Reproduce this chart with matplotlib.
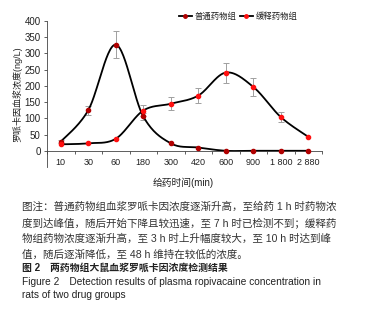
import numpy as np
import matplotlib
matplotlib.use("Agg")
import matplotlib.pyplot as plt
from matplotlib.lines import Line2D

plt.rcParams['font.family'] = ['Liberation Sans', 'Noto Sans CJK SC', 'DejaVu Sans']

time_labels = ['10', '30', '60', '180', '300', '420', '600', '900', '1 800', '2 880']
normal_vals = [28, 125, 327, 106, 23, 10, 0, 0, 0, 0]
normal_err = [4, 14, 42, 10, 0, 0, 0, 0, 0, 0]
slow_vals = [20, 23, 37, 124, 145, 170, 241, 197, 104, 43]
slow_err = [0, 0, 0, 16, 20, 22, 31, 27, 14, 0]
series_names = ['普通药物组', '缓释药物组']

W, H = 369, 316
fig = plt.figure(figsize=(W / 100, H / 100), dpi=100)
ax = fig.add_axes([47 / W, 1 - 167 / H, (322 - 47) / W, (167 - 21) / H])


def smooth(y, n=30):
    y = np.asarray(y, float)
    x = np.arange(len(y), dtype=float)
    xs, ys = [], []
    for i in range(len(y) - 1):
        p0 = np.array([x[i], y[i]])
        p3 = np.array([x[i + 1], y[i + 1]])
        pm = np.array([x[i - 1], y[i - 1]]) if i > 0 else p0
        pp = np.array([x[i + 2], y[i + 2]]) if i + 2 < len(y) else p3
        c1 = p0 + (p3 - pm) / 6.0
        c2 = p3 - (pp - p0) / 6.0
        t = np.linspace(0, 1, n)[:, None]
        pts = ((1 - t) ** 3) * p0 + 3 * ((1 - t) ** 2) * t * c1 + 3 * (1 - t) * t ** 2 * c2 + t ** 3 * p3
        xs.extend(pts[:, 0]); ys.extend(pts[:, 1])
    return np.array(xs), np.array(ys)


idx = np.arange(len(time_labels))
for vals, err, mcol in [(normal_vals, normal_err, '#b00000'), (slow_vals, slow_err, '#ff1010')]:
    sx, sy = smooth(vals)
    ax.plot(sx, sy, color='black', lw=1.3, zorder=2)
    e = np.array(err, float)
    mask = e > 0
    ax.errorbar(idx[mask], np.array(vals)[mask], yerr=e[mask], fmt='none', ecolor='#a0a0a0',
                elinewidth=0.7, capsize=2, capthick=0.7, zorder=1)
    ax.plot(idx, vals, 'o', color=mcol, ms=3.0, mec=mcol, zorder=3)

ax.set_xlim(-0.5, 9.5)
ax.set_ylim(-50, 400)
ax.set_yticks(np.arange(0, 401, 50))
ax.spines['top'].set_visible(False)
ax.spines['right'].set_visible(False)
ax.spines['bottom'].set_position(('data', 0))
for s in ('left', 'bottom'):
    ax.spines[s].set_linewidth(0.6)
    ax.spines[s].set_color('#444444')
ax.set_xticks(idx)
ax.set_xticklabels(time_labels)
ax.set_xticks(np.arange(-0.5, 9.6, 1), minor=True)
ax.tick_params(axis='x', which='major', length=0, labelsize=6.5, pad=5, labelcolor='#222222')
ax.tick_params(axis='x', which='minor', length=2.5, width=0.6, direction='out', color='#444444')
ax.tick_params(axis='y', length=2.5, width=0.6, labelsize=7, pad=2, color='#444444', labelcolor='#222222')

ax.set_ylabel('罗哌卡因血浆浓度(ng/L)', fontsize=6.5, labelpad=2, color='#222222')
fig.text(183 / W, 1 - 183 / H, '给药时间(min)', fontsize=7, ha='center', va='center', color='#222222')

handles = [Line2D([], [], color='black', lw=1.3, marker='o', ms=2.5, mfc='#b00000', mec='#b00000'),
           Line2D([], [], color='black', lw=1.3, marker='o', ms=2.5, mfc='#ff1010', mec='#ff1010')]
fig.legend(handles, series_names, loc='center', bbox_to_anchor=(238 / W, 1 - 17 / H), ncol=2,
           frameon=False, fontsize=6, handlelength=1.6, handletextpad=0.3, columnspacing=0.4,
           labelcolor='#222222')

cap = [
    '图注：普通药物组血浆罗哌卡因浓度逐渐升高，至给药 1 h 时药物浓',
    '度到达峰值，随后开始下降且较迅速，至 7 h 时已检测不到；缓释药',
    '物组药物浓度逐渐升高，至 3 h 时上升幅度较大，至 10 h 时达到峰',
    '值，随后逐渐降低，至 48 h 维持在较低的浓度。',
]
ys = [207, 223, 239, 255]
for t, y in zip(cap, ys):
    fig.text(22 / W, 1 - y / H, t, fontsize=7.6, va='center', ha='left', color='#333333')
fig.text(22 / W, 1 - 268 / H, '图 2　两药物组大鼠血浆罗哌卡因浓度检测结果', fontsize=7.1, va='center',
         ha='left', fontweight='bold', color='#222222')
fig.text(22 / W, 1 - 282 / H, 'Figure 2　Detection results of plasma ropivacaine concentration in',
         fontsize=7.3, va='center', ha='left', color='#222222')
fig.text(22 / W, 1 - 295 / H, 'rats of two drug groups', fontsize=7.3, va='center', ha='left', color='#222222')

fig.savefig('out.png', dpi=100)
